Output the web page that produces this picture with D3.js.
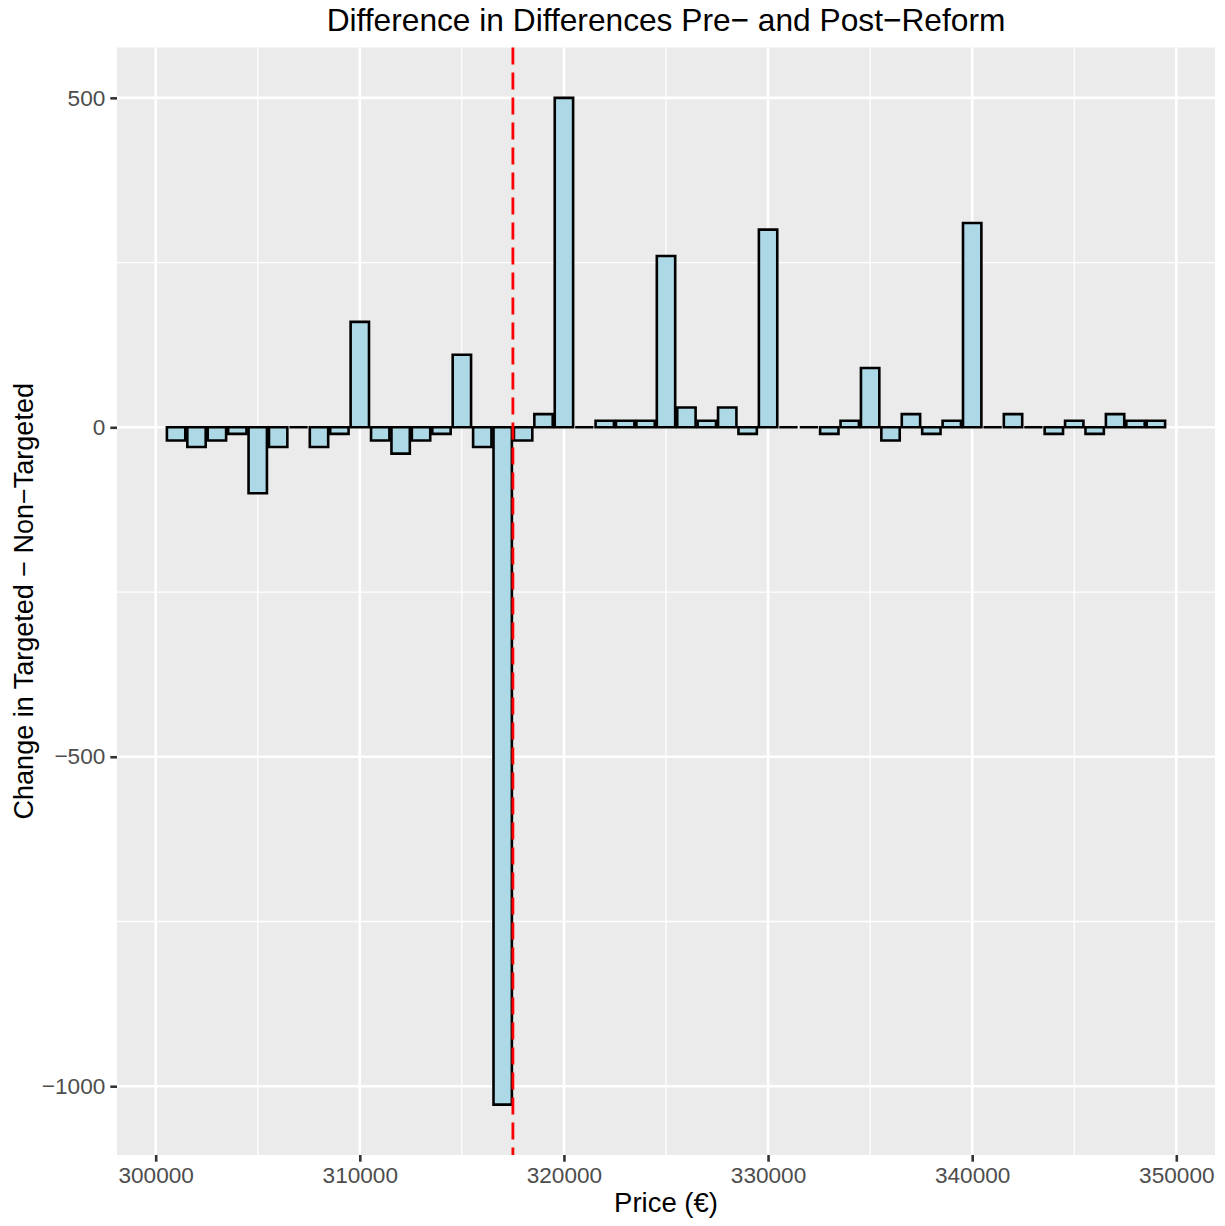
<!DOCTYPE html>
<html>
<head>
<meta charset="utf-8">
<script src="https://cdn.jsdelivr.net/npm/d3@7"></script>
<style>
  html, body { margin: 0; padding: 0; background: #ffffff; }
  svg text { font-family: "Liberation Sans", Arial, Helvetica, sans-serif; }
</style>
</head>
<body>
<svg id="chart" width="1225" height="1226"></svg>
<script>
// ---- data ----
const prices = [301000, 302000, 303000, 304000, 305000, 306000, 307000, 308000, 309000, 310000,
                311000, 312000, 313000, 314000, 315000, 316000, 317000, 318000, 319000, 320000,
                321000, 322000, 323000, 324000, 325000, 326000, 327000, 328000, 329000, 330000,
                331000, 332000, 333000, 334000, 335000, 336000, 337000, 338000, 339000, 340000,
                341000, 342000, 343000, 344000, 345000, 346000, 347000, 348000, 349000];
const diffs = [-20, -30, -20, -10, -100, -30, 0, -30, -10, 160,
               -20, -40, -20, -10, 110, -30, -1028, -20, 20, 500,
               0, 10, 10, 10, 260, 30, 10, 30, -10, 300,
               0, 0, -10, 10, 90, -20, 20, -10, 10, 310,
               0, 20, 0, -10, 10, -10, 20, 10, 10];
const threshold = 317500;
const xTicks = [300000, 310000, 320000, 330000, 340000, 350000];
const xMinor = [305000, 315000, 325000, 335000, 345000];
const yTicks = [-1000, -500, 0, 500];
const yMinor = [-750, -250, 250];
const binWidth = 1000;
const barFrac = 0.9;
const titleText = "Difference in Differences Pre\u2212 and Post\u2212Reform";
const xLabel = "Price (\u20AC)";
const yLabel = "Change in Targeted \u2212 Non\u2212Targeted";

// ---- layout ----
const panel = { left: 117, right: 1215, top: 47.5, bottom: 1155 };
const svg = d3.select("#chart");

const data = prices.map((p, i) => ({ price: p, value: diffs[i] }));

// ggplot-like 5% expansion
const xLo = d3.min(prices) - binWidth * barFrac / 2;
const xHi = d3.max(prices) + binWidth * barFrac / 2;
const xPad = (xHi - xLo) * 0.05;
const yLo = Math.min(0, d3.min(diffs));
const yHi = Math.max(0, d3.max(diffs));
const yPad = (yHi - yLo) * 0.05;

const x = d3.scaleLinear().domain([xLo - xPad, xHi + xPad]).range([panel.left, panel.right]);
const y = d3.scaleLinear().domain([yLo - yPad, yHi + yPad]).range([panel.bottom, panel.top]);

// panel background
svg.append("rect")
  .attr("x", panel.left).attr("y", panel.top)
  .attr("width", panel.right - panel.left).attr("height", panel.bottom - panel.top)
  .attr("fill", "#EBEBEB");

const grid = svg.append("g");
// minor grid
grid.selectAll(".xminor").data(xMinor).join("line")
  .attr("class", "xminor")
  .attr("x1", d => x(d)).attr("x2", d => x(d))
  .attr("y1", panel.top).attr("y2", panel.bottom)
  .attr("stroke", "#fff").attr("stroke-width", 1.3);
grid.selectAll(".yminor").data(yMinor).join("line")
  .attr("class", "yminor")
  .attr("y1", d => y(d)).attr("y2", d => y(d))
  .attr("x1", panel.left).attr("x2", panel.right)
  .attr("stroke", "#fff").attr("stroke-width", 1.3);
// major grid
grid.selectAll(".xmajor").data(xTicks).join("line")
  .attr("class", "xmajor")
  .attr("x1", d => x(d)).attr("x2", d => x(d))
  .attr("y1", panel.top).attr("y2", panel.bottom)
  .attr("stroke", "#fff").attr("stroke-width", 2.6);
grid.selectAll(".ymajor").data(yTicks).join("line")
  .attr("class", "ymajor")
  .attr("y1", d => y(d)).attr("y2", d => y(d))
  .attr("x1", panel.left).attr("x2", panel.right)
  .attr("stroke", "#fff").attr("stroke-width", 2.6);

// bars (as paths so zero-height bars still show their outline)
svg.append("g").selectAll("path").data(data).join("path")
  .attr("d", d => {
    const x0 = x(d.price - binWidth * barFrac / 2);
    const x1 = x(d.price + binWidth * barFrac / 2);
    const y0 = y(0), y1 = y(d.value);
    return `M${x0},${y0}H${x1}V${y1}H${x0}Z`;
  })
  .attr("fill", "#ADD8E6")
  .attr("stroke", "#000")
  .attr("stroke-width", 2.6)
  .attr("stroke-linejoin", "miter");

// threshold line
svg.append("line")
  .attr("x1", x(threshold)).attr("x2", x(threshold))
  .attr("y1", panel.top).attr("y2", panel.bottom)
  .attr("stroke", "#FF0000").attr("stroke-width", 2.8)
  .attr("stroke-dasharray", "17,8");

// axes
const xAxis = d3.axisBottom(x).tickValues(xTicks).tickFormat(d3.format("d"))
  .tickSize(6.7).tickPadding(5);
const gx = svg.append("g").attr("transform", `translate(0,${panel.bottom})`).call(xAxis);
gx.select(".domain").remove();
gx.selectAll(".tick line").attr("stroke", "#333333").attr("stroke-width", 2.6);
gx.selectAll(".tick text").attr("fill", "#4D4D4D").attr("font-size", 22.6)
  .attr("font-family", "Liberation Sans, Arial, sans-serif");

const yAxis = d3.axisLeft(y).tickValues(yTicks).tickFormat(d3.format("d"))
  .tickSize(6.7).tickPadding(5);
const gy = svg.append("g").attr("transform", `translate(${panel.left},0)`).call(yAxis);
gy.select(".domain").remove();
gy.selectAll(".tick line").attr("stroke", "#333333").attr("stroke-width", 2.6);
gy.selectAll(".tick text").attr("fill", "#4D4D4D").attr("font-size", 22.6)
  .attr("font-family", "Liberation Sans, Arial, sans-serif");

// titles
const cx = (panel.left + panel.right) / 2;
svg.append("text")
  .attr("x", cx).attr("y", 31)
  .attr("text-anchor", "middle")
  .attr("font-size", 31.7)
  .attr("fill", "#000")
  .text(titleText);

svg.append("text")
  .attr("x", cx).attr("y", 1212)
  .attr("text-anchor", "middle")
  .attr("font-size", 27.5)
  .attr("fill", "#000")
  .text(xLabel);

svg.append("text")
  .attr("transform", `translate(33,${(panel.top + panel.bottom) / 2}) rotate(-90)`)
  .attr("text-anchor", "middle")
  .attr("font-size", 27)
  .attr("fill", "#000")
  .text(yLabel);
</script>
</body>
</html>
